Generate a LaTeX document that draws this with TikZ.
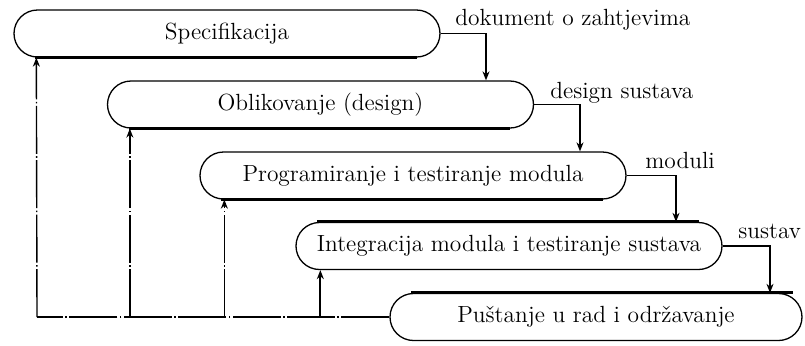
\documentclass[tikz,border=0pt]{standalone}
\usetikzlibrary{arrows.meta}
\begin{document}
\begin{tikzpicture}[x=0.5pt,y=-0.5pt,
  phase/.style={draw=black,line width=0.65pt,rounded corners=11.75pt,minimum width=213pt,minimum height=23.5pt,inner sep=0pt,font=\fontsize{11.7}{14}\selectfont},
  lastphase/.style={phase,minimum width=206pt},
  flow/.style={line width=0.9pt,-{Stealth[length=4.5pt,width=3.5pt]}},
  fb/.style={line width=0.7pt,dash pattern=on 24pt off 1.2pt on 0.8pt off 1.2pt,-{Stealth[length=4.5pt,width=3.5pt]}},
  fbline/.style={line width=0.7pt,dash pattern=on 24pt off 1.2pt on 0.8pt off 1.2pt},
  thickedge/.style={line width=1.6pt},
  lbl/.style={anchor=base west,inner sep=0pt,font=\fontsize{11.7}{14}\selectfont}]
\useasboundingbox (0,0) rectangle (805,345);
\node[phase] (b1) at (227,33.5) {Specifikacija};
\node[phase] (b2) at (320.5,104.5) {Oblikovanje (design)};
\node[phase] (b3) at (413,175.5) {Programiranje i testiranje modula};
\node[phase] (b4) at (509,246) {Integracija modula i testiranje sustava};
\node[lastphase] (b5) at (596,317) {Puštanje u rad i održavanje};
% thicker edges as in the reference
\draw[thickedge] ([xshift=11pt]b1.south west) -- ([xshift=-12pt]b1.south east);
\draw[thickedge] ([xshift=11pt]b2.south west) -- ([xshift=-12pt]b2.south east);
\draw[thickedge] ([xshift=11pt]b3.south west) -- ([xshift=-12pt]b3.south east);
\draw[thickedge] ([xshift=11pt]b4.north west) -- ([xshift=-12pt]b4.north east);
\draw[thickedge] ([xshift=11pt]b5.north west) -- ([xshift=-5pt]b5.north east);
% forward flow
\draw[flow] (b1.east) -| ([xshift=82.75pt]b2.north);
\draw[flow] (b2.east) -| ([xshift=83.5pt]b3.north);
\draw[flow] (b3.east) -| ([xshift=83.5pt]b4.north);
\draw[flow] (b4.east) -| ([xshift=87pt]b5.north);
\node[lbl] (l1) at (455,25) {dokument o zahtjevima};
\node[lbl] (l2) at (550,98) {design sustava};
\node[lbl] (l3) at (645,168) {moduli};
\node[lbl] (l4) at (738,238) {sustav};
% feedback
\coordinate (h1) at (37,317);
\draw[fbline] (b5.west) -- (h1);
\draw[fb] (h1) -- ([xshift=11.5pt]b1.south west);
\draw[fb] ([xshift=11.5pt]b2.south west |- h1) -- ([xshift=11.5pt]b2.south west);
\draw[fb] ([xshift=12.5pt]b3.south west |- h1) -- ([xshift=12.5pt]b3.south west);
\draw[fb,line width=1.1pt] ([xshift=12.5pt]b4.south west |- h1) -- ([xshift=12.5pt]b4.south west);
\end{tikzpicture}
\end{document}
